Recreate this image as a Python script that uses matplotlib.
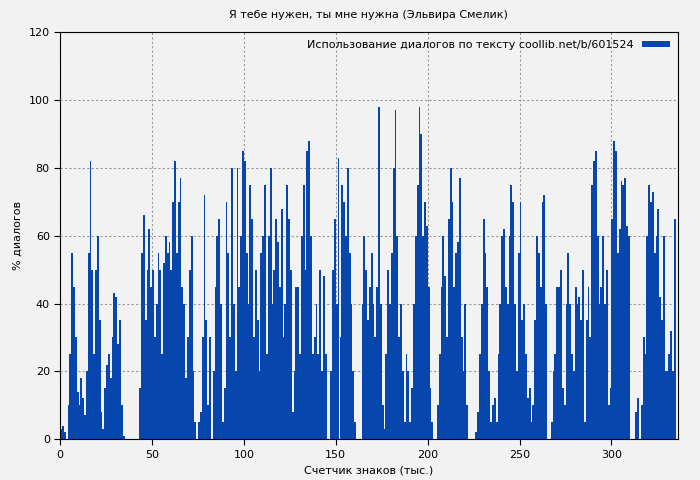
import matplotlib
matplotlib.use("Agg")
import matplotlib.pyplot as plt

values = [3,4,2,0,10,25,55,45,30,14,10,18,12,7,20,55,82,50,25,50,
60,35,8,3,15,22,25,18,30,43,42,28,35,10,1,0,0,0,0,0,
0,0,0,15,55,66,35,50,62,45,50,30,40,55,50,25,52,60,55,58,
50,70,82,55,70,77,45,40,18,30,50,60,20,5,0,5,8,30,72,35,
10,30,0,20,45,60,65,40,5,15,70,55,30,80,40,20,80,45,60,85,
82,55,40,75,65,30,50,35,20,55,60,75,25,60,80,40,50,65,58,45,
68,30,40,75,65,50,8,20,45,45,25,60,75,50,85,88,60,25,30,40,
25,50,20,48,25,0,0,20,50,65,40,83,30,75,70,60,80,55,40,20,
5,0,0,0,40,60,50,35,45,55,40,30,45,98,40,10,3,25,50,40,
55,80,97,60,30,40,20,5,25,20,5,15,40,60,75,98,90,60,70,63,
45,15,5,0,0,10,25,45,60,48,30,65,80,70,45,55,58,77,30,20,
40,10,0,0,0,0,2,8,25,40,65,55,45,20,5,10,12,5,25,40,
60,62,45,40,60,75,70,40,20,55,70,35,40,25,12,15,5,10,35,60,
55,45,70,72,40,0,0,5,20,25,45,45,50,15,10,40,55,40,25,20,
45,40,42,35,50,5,35,45,30,75,82,85,60,40,45,60,40,50,10,15,
65,88,85,55,62,76,75,77,63,60,0,0,0,8,12,0,10,30,25,60,
75,70,73,55,60,68,42,35,60,20,20,25,32,20,65,0]
x = list(range(len(values)))

bg = "#f2f2f2"
fig = plt.figure(figsize=(7, 4.8), dpi=100, facecolor=bg)
ax = fig.add_axes([0.086, 0.085, 0.882, 0.848], facecolor=bg)
ax.bar(x, values, width=1.0, align="edge", color="#0646ad", linewidth=0,
       label="Использование диалогов по тексту coollib.net/b/601524")
ax.set_xlim(0, 336)
ax.set_ylim(0, 120)
ax.set_xticks([0, 50, 100, 150, 200, 250, 300])
ax.set_yticks(range(0, 121, 20))
ax.grid(True, linestyle=(0, (2, 2)), color="#999999", linewidth=0.8)
ax.set_axisbelow(True)
ax.tick_params(labelsize=8, direction="out", length=4)
ax.set_xlabel("Счетчик знаков (тыс.)", fontsize=8)
ax.set_ylabel("% диалогов", fontsize=8)
ax.set_title("Я тебе нужен, ты мне нужна (Эльвира Смелик)", fontsize=8, pad=10)
leg = ax.legend(loc="upper right", fontsize=8, frameon=False, handlelength=2.5,
                handleheight=0.4, borderaxespad=0.3, markerfirst=False)
leg.set_zorder(5)
fig.savefig("out.png", dpi=100, facecolor=bg)
